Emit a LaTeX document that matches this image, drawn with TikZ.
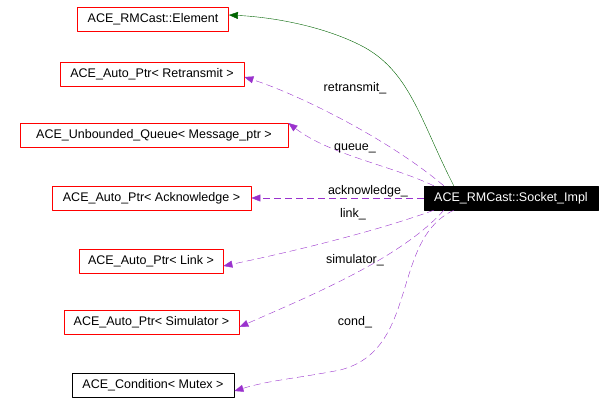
\documentclass[tikz,border=0pt]{standalone}
\usepackage{fontspec}
\setmainfont{Liberation Sans}
\usetikzlibrary{arrows.meta}
\definecolor{edgepurple}{HTML}{9A32CD}
\definecolor{edgegreen}{HTML}{006400}
\tikzset{
  cls/.style={draw=red, line width=0.8pt, inner sep=0pt, minimum height=24pt, font=\fontsize{12.5}{14}\selectfont},
  sel/.style={draw=black, fill=black, text=white, inner sep=0pt, minimum height=24pt, font=\fontsize{12.5}{14}\selectfont},
  use/.style={edgepurple, dash pattern=on 7pt off 4pt, -{Triangle[length=9pt,width=7pt]}},
  inherit/.style={edgegreen, -{Triangle[length=9pt,width=7pt]}},
  lbl/.style={font=\fontsize{12.5}{14}\selectfont}
}
\begin{document}
\begin{tikzpicture}[x=1pt, y=-1pt, line join=round]
\useasboundingbox (0,0) rectangle (616,416);
% classes
\node[cls, minimum width=151pt] (element) at (153,19) {ACE\_RMCast::Element};
\node[cls, minimum width=184pt] (retx) at (152,74) {ACE\_Auto\_Ptr< Retransmit >};
\node[cls, minimum width=268pt] (queue) at (154,135) {ACE\_Unbounded\_Queue< Message\_ptr >};
\node[cls, minimum width=199pt] (ack) at (151.5,198) {ACE\_Auto\_Ptr< Acknowledge >};
\node[cls, minimum width=144pt] (link) at (151,261) {ACE\_Auto\_Ptr< Link >};
\node[cls, minimum width=175pt] (sim) at (151.5,322) {ACE\_Auto\_Ptr< Simulator >};
\node[cls, draw=black, minimum width=162pt] (cond) at (153,385) {ACE\_Condition< Mutex >};
\node[sel, minimum width=174pt] (sock) at (511,198) {ACE\_RMCast::Socket\_Impl};

% inheritance
\draw[inherit] ([xshift=30pt]sock.north west) .. controls (420,120) and (410,70) .. (360,45)
  .. controls (320,25) and (270,17) .. ([yshift=4pt]element.east);

% members
\draw[use] ([xshift=20pt]sock.north west) .. controls (390,140) and (300,95) .. ([yshift=-3pt]retx.east);
\draw[use] ([xshift=10pt]sock.north west) .. controls (390,165) and (330,155) .. ([yshift=12pt]queue.east);
\draw[use] (sock.west) -- (ack.east);
\draw[use] ([xshift=10pt]sock.south west) .. controls (380,230) and (300,250) .. ([yshift=-5pt]link.east);
\draw[use] ([xshift=20pt]sock.south west) .. controls (400,260) and (300,300) .. ([yshift=-5pt]sim.east);
\draw[use] ([xshift=30pt]sock.south west) .. controls (390,240) and (420,350) .. (340,370)
  .. controls (300,378) and (270,380) .. ([yshift=-6pt]cond.east);

% labels
\node[lbl] (lretx) at (355,88) {retransmit\_};
\node[lbl] (lqueue) at (355,148) {queue\_};
\node[lbl] (lack) at (368,191) {acknowledge\_};
\node[lbl] (llink) at (353,214) {link\_};
\node[lbl] (lsim) at (355,260) {simulator\_};
\node[lbl] (lcond) at (355,322) {cond\_};
\end{tikzpicture}
\end{document}
